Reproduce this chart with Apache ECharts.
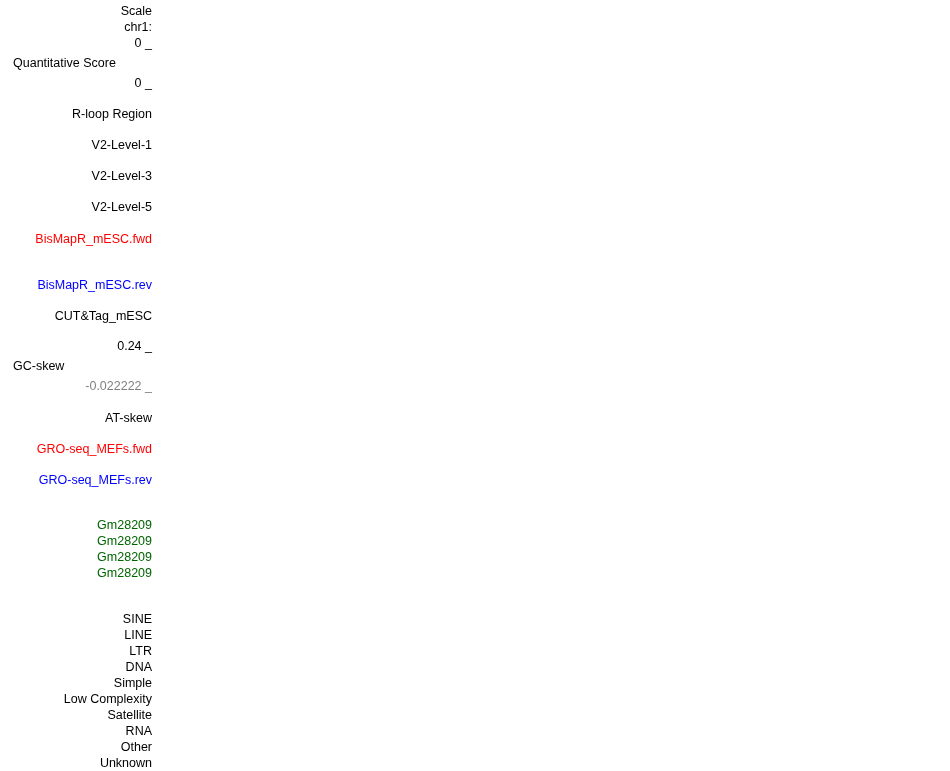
<!DOCTYPE html>
<html>
<head>
<meta charset="utf-8">
<script src="https://cdn.jsdelivr.net/npm/echarts@6/dist/echarts.min.js"></script>
<style>
  html, body { margin: 0; padding: 0; background: #fff; }
  #chart { width: 950px; height: 771px; }
</style>
</head>
<body>
<div id="chart"></div>
<script>
// Track label column (UCSC-style browser left panel)
const labels = [
  'Scale', 'chr1:', '0 _', 'Quantitative Score', '0 _', 'R-loop Region',
  'V2-Level-1', 'V2-Level-3', 'V2-Level-5', 'BisMapR_mESC.fwd', 'BisMapR_mESC.rev',
  'CUT&Tag_mESC', '0.24 _', 'GC-skew', '-0.022222 _', 'AT-skew',
  'GRO-seq_MEFs.fwd', 'GRO-seq_MEFs.rev',
  'Gm28209', 'Gm28209', 'Gm28209', 'Gm28209',
  'SINE', 'LINE', 'LTR', 'DNA', 'Simple', 'Low Complexity', 'Satellite', 'RNA', 'Other', 'Unknown'
];
// vertical row of each label (pixel row in the browser image)
const rows = [
  12, 28, 44, 64, 84, 115,
  146, 177, 208, 240, 286,
  317, 347, 367, 387, 419,
  450, 481,
  526, 542, 558, 574,
  620, 636, 652, 668, 684, 700, 716, 732, 748, 764
];
// 'r' = right-aligned track name, 'l' = left-aligned wiggle title
const side = [
  'r', 'r', 'r', 'l', 'r', 'r',
  'r', 'r', 'r', 'r', 'r',
  'r', 'r', 'l', 'r', 'r',
  'r', 'r',
  'r', 'r', 'r', 'r',
  'r', 'r', 'r', 'r', 'r', 'r', 'r', 'r', 'r', 'r'
];
const kind = [
  'k', 'k', 'k', 'k', 'k', 'k',
  'k', 'k', 'k', 'fwd', 'rev',
  'k', 'k', 'k', 'neg', 'k',
  'fwd', 'rev',
  'gene', 'gene', 'gene', 'gene',
  'k', 'k', 'k', 'k', 'k', 'k', 'k', 'k', 'k', 'k'
];

const COLORS = { k: '#000000', fwd: '#ff0000', rev: '#0000ff', neg: '#808080', gene: '#006400' };
const RIGHT_EDGE = 152, LEFT_EDGE = 13;

const chart = echarts.init(document.getElementById('chart'));
const data = labels.map((t, i) => ({
  value: [side[i] === 'l' ? LEFT_EDGE : RIGHT_EDGE, rows[i]],
  name: t,
  label: { align: side[i] === 'l' ? 'left' : 'right', color: COLORS[kind[i]] }
}));

chart.setOption({
  animation: false,
  grid: { left: 0, right: 0, top: 0, bottom: 0 },
  xAxis: { type: 'value', min: 0, max: 950, show: false },
  yAxis: { type: 'value', min: 0, max: 771, inverse: true, show: false },
  series: [{
    type: 'scatter',
    symbolSize: 0,
    itemStyle: { opacity: 1 },
    emphasis: { disabled: true },
    data: data,
    label: {
      show: true, position: 'inside', verticalAlign: 'middle',
      fontFamily: 'Liberation Sans, Arial, sans-serif', fontSize: 12.5,
      formatter: p => p.name
    }
  }]
});
</script>
</body>
</html>
